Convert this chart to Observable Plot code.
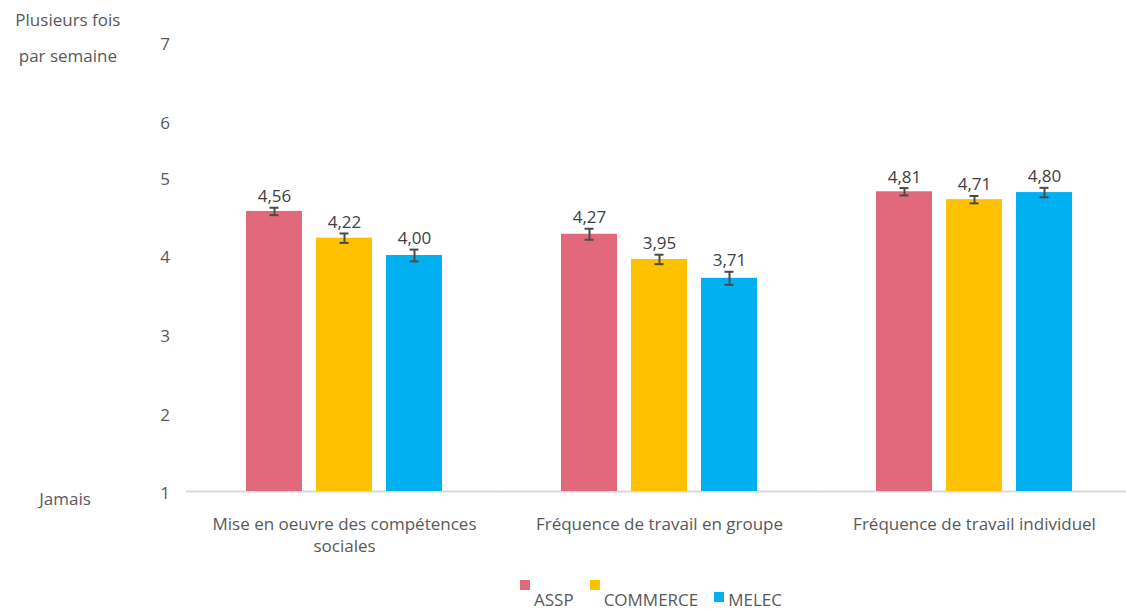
<!DOCTYPE html>
<html>
<head>
<meta charset="utf-8">
<script src="https://cdn.jsdelivr.net/npm/d3@7"></script>
<script src="https://cdn.jsdelivr.net/npm/@observablehq/plot@0.6"></script>
<style>
  body { margin: 0; background: #fff; font-family: "Open Sans", Lato, sans-serif; }
  #legend { width: 1126px; height: 40px; box-sizing: border-box; padding-left: 176px;
            display: flex; justify-content: center; font-size: 17px; color: #595959; }
  .item { display: flex; align-items: flex-start; margin: 0 8px; }
  .sw { width: 10px; height: 10px; margin-right: 4px; }
  .txt { line-height: 20px; margin-top: 20px; }
</style>
</head>
<body>
<div id="chart"></div>
<div id="legend"></div>
<script>
const categories = ["Mise en oeuvre des compétences sociales", "Fréquence de travail en groupe", "Fréquence de travail individuel"];
const categoryLabels = ["Mise en oeuvre des compétences\nsociales", "Fréquence de travail en groupe", "Fréquence de travail individuel"];
const series = ["ASSP", "COMMERCE", "MELEC"];
const colors = ["#E2697C", "#FFC000", "#00B0F0"];
const asspValues = [4.56, 4.27, 4.81];
const commerceValues = [4.22, 3.95, 4.71];
const melecValues = [4.00, 3.71, 4.80];
const asspErr = [0.047, 0.07, 0.047];
const commerceErr = [0.06, 0.06, 0.047];
const melecErr = [0.075, 0.083, 0.06];
const yTicksLow = [1, 2, 3, 4, 5];
const yTicksHigh = [6, 7];
const topLabel = "Plusieurs fois\npar semaine";
const bottomLabel = "Jamais";

const valuesBySeries = [asspValues, commerceValues, melecValues];
const errBySeries = [asspErr, commerceErr, melecErr];
const data = [];
categories.forEach((c, i) => series.forEach((s, j) => {
  data.push({cat: c, series: s, value: valuesBySeries[j][i], err: errBySeries[j][i]});
}));
const fmt = v => v.toFixed(2).replace(".", ",");
const labelOf = c => categoryLabels[categories.indexOf(c)];
const FONT = "'Open Sans', Lato, sans-serif";
const FS = 17;
// y axes are anchored on the left edge of the first facet band; this shifts them back to the plot's left edge
const shift = 52.6;

const chart = Plot.plot({
  width: 1126,
  height: 570,
  marginTop: 19,
  marginBottom: 79,
  marginLeft: 186,
  marginRight: -6,
  style: {fontFamily: FONT, fontSize: FS + "px", color: "#595959", background: "#fff"},
  fx: {domain: categories, paddingInner: 0.334, paddingOuter: 0.167, label: null, axis: null},
  x: {domain: series, paddingInner: 0.2, paddingOuter: 0.1, axis: null},
  y: {domain: [1, 7], axis: null},
  color: {domain: series, range: colors},
  marks: [
    Plot.ruleY([1], {stroke: "#D9D9D9", strokeWidth: 2, insetLeft: -53, insetRight: -53}),
    Plot.barY(data, {fx: "cat", x: "series", y1: 1, y2: "value", fill: "series"}),
    Plot.ruleX(data, {fx: "cat", x: "series", y1: d => d.value - d.err, y2: d => d.value + d.err, stroke: "#4a4a4a", strokeWidth: 2}),
    Plot.tickY(data, {fx: "cat", x: "series", y: d => d.value - d.err, stroke: "#4a4a4a", strokeWidth: 2, insetLeft: 23.5, insetRight: 23.5}),
    Plot.tickY(data, {fx: "cat", x: "series", y: d => d.value + d.err, stroke: "#4a4a4a", strokeWidth: 2, insetLeft: 23.5, insetRight: 23.5}),
    Plot.text(data, {fx: "cat", x: "series", y: d => d.value + d.err, text: d => fmt(d.value), dy: -11, lineAnchor: "middle", fill: "#404040", fontSize: FS}),
    Plot.axisFx({anchor: "bottom", tickSize: 0, tickPadding: 23, tickFormat: labelOf, lineHeight: 1.3, fill: "#595959", fontSize: FS, label: null}),
    Plot.axisY({ticks: yTicksLow, tickFormat: d => String(d), tickSize: 0, tickPadding: 17 + shift, dy: 2.5, fill: "#595959", fontSize: FS, label: null}),
    Plot.axisY({ticks: yTicksHigh, tickFormat: d => String(d), tickSize: 0, tickPadding: 17 + shift, dy: 25, fill: "#595959", fontSize: FS, label: null}),
    Plot.axisY({ticks: [1], tickSize: 0, tickPadding: 96 + shift, dy: 8, tickFormat: () => bottomLabel, fill: "#595959", fontSize: FS, label: null}),
    Plot.axisY({ticks: [7], tickSize: 0, tickPadding: 119 + shift, dy: 13, textAnchor: "middle", lineHeight: 2.1, tickFormat: () => topLabel, fill: "#595959", fontSize: FS, label: null})
  ]
});
document.getElementById("chart").appendChild(chart);

const legend = d3.select("#legend");
series.forEach((s, i) => {
  const item = legend.append("div").attr("class", "item");
  item.append("div").attr("class", "sw")
    .style("background", colors[i])
    .style("margin-top", i < 2 ? "10px" : "22px");
  item.append("div").attr("class", "txt").text(s);
});
</script>
</body>
</html>
